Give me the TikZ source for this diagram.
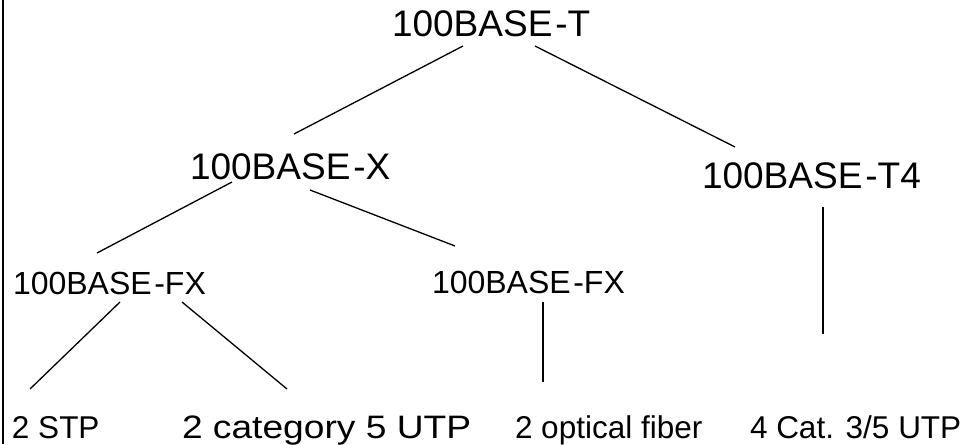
\documentclass[tikz,border=0pt]{standalone}
\usepackage{fontspec}
\setmainfont{Liberation Sans}
\begin{document}
\begin{tikzpicture}[x=1pt,y=-1pt,
  big/.style={inner sep=0pt,outer sep=0pt,anchor=base west,font=\fontsize{37}{40}\selectfont},
  mid/.style={inner sep=0pt,outer sep=0pt,anchor=base west,font=\fontsize{32}{36}\selectfont},
  leaf/.style={inner sep=0pt,outer sep=0pt,anchor=base west,font=\fontsize{31.5}{35}\selectfont},
  link/.style={line width=1.3pt,black}]
\useasboundingbox (0,0) rectangle (960,444);
\draw[line width=2.3pt] (3,0) -- (3,444);
\node[big] (T)   at (392,37)  {100BASE\kern0.08em-T};
\node[big] (X)   at (190,179) {100BASE\kern0.08em-X};
\node[big] (T4)  at (702,188) {100BASE\kern0.08em-T4};
\node[mid] (FXL) at (13,294)  {100BASE\kern0.08em-FX};
\node[mid] (FXR) at (432,293) {100BASE\kern0.08em-FX};
\node[leaf] (STP) at (12,438)  {2 STP};
\node[leaf] (UTP) at (182,438) {\scalebox{1.18}[1.03]{2 category 5 UTP}};
\node[leaf] (FIB) at (515,438) {2 optical fiber};
\node[leaf] (CAT) at (750,438) {4 Cat. 3/5 UTP};
\draw[link] ([shift={(71,9)}]T.base west) -- ([shift={(104,-45)}]X.base west);
\draw[link] ([shift={(143,9)}]T.base west) -- ([shift={(33,-41)}]T4.base west);
\draw[link] ([shift={(42,3)}]X.base west) -- ([shift={(84,-41)}]FXL.base west);
\draw[link] ([shift={(120,11)}]X.base west) -- ([shift={(23,-47)}]FXR.base west);
\draw[link] ([shift={(107,8)}]FXL.base west) -- ([shift={(18,-49)}]STP.base west);
\draw[link] ([shift={(169,8)}]FXL.base west) -- ([shift={(105,-49)}]UTP.base west);
\draw[link] ([shift={(111,9)}]FXR.base west) -- ([shift={(28,-56)}]FIB.base west);
\draw[link] ([shift={(121,19)}]T4.base west) -- ([shift={(73,-104)}]CAT.base west);
\end{tikzpicture}
\end{document}
